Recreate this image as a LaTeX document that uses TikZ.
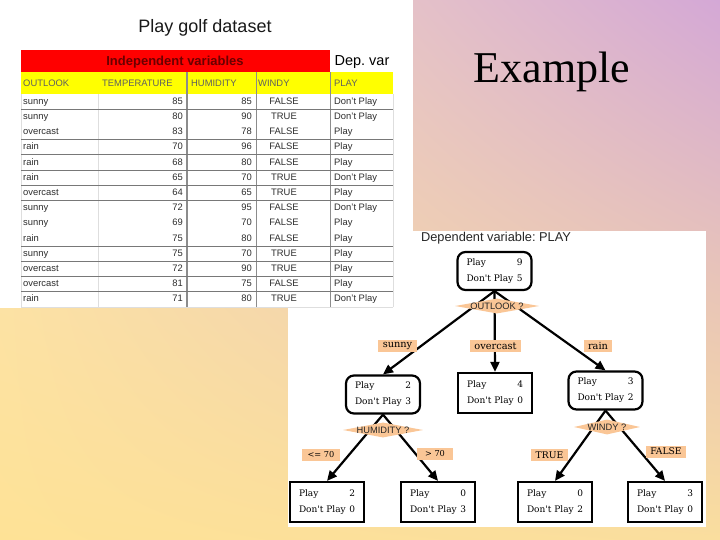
\documentclass[tikz,border=0pt]{standalone}
\usepackage{fontspec}
\setmainfont{Liberation Serif}
\setsansfont{Liberation Sans}
\newfontfamily\treefont{DejaVu Serif}
\usetikzlibrary{positioning,arrows.meta,shapes.geometric,shadings}
\frenchspacing

\definecolor{bgUL}{RGB}{250,226,182}
\definecolor{bgUR}{RGB}{212,168,214}
\definecolor{bgLL}{RGB}{254,226,150}
\definecolor{bgLR}{RGB}{250,222,158}
\definecolor{tabred}{RGB}{255,0,0}
\definecolor{tabyel}{RGB}{255,255,0}
\definecolor{indred}{RGB}{105,0,0}
\definecolor{peach}{RGB}{250,198,150}
\definecolor{headgray}{RGB}{95,95,95}
\definecolor{cellgray}{RGB}{45,45,45}
\definecolor{linegray}{RGB}{120,120,120}
\definecolor{colgray}{RGB}{140,140,140}
\definecolor{faintgray}{RGB}{222,222,222}

\newcommand{\tally}[2]{\begin{tabular*}{56pt}{@{}l@{\extracolsep{\fill}}r@{}}Play & #1\\[5pt]Don't Play & #2\end{tabular*}}

\begin{document}
\begin{tikzpicture}[x=1pt, y=-1pt,
  cell/.style={font=\sffamily\fontsize{9.4}{11}\selectfont, text=cellgray, inner sep=0pt,
               text height=7pt, text depth=2pt},
  hdr/.style={cell, text=headgray},
  rowline/.style={draw=linegray, line width=0.8pt},
  cnt/.style={draw, line width=2.2pt, minimum width=74pt, minimum height=38pt,
              inner sep=0pt, fill=white, font=\treefont\fontsize{9}{11}\selectfont},
  split/.style={cnt, rounded corners=8pt},
  leaf/.style={cnt, minimum height=40pt},
  test/.style={diamond, fill=peach, inner sep=0pt, minimum width=#1, minimum height=15pt},
  testtxt/.style={font=\sffamily\fontsize{9.3}{10}\selectfont, text=black!85, inner sep=0pt},
  lbl/.style={fill=peach, inner xsep=4.5pt, inner ysep=0pt, minimum height=12pt,
              font=\treefont\fontsize{9.8}{11}\selectfont},
  arr/.style={line width=2.2pt, -{Triangle[length=10pt,width=9pt]}}
]
  \useasboundingbox (0,0) rectangle (720,540);
  % slide background and panels
  \shade[upper left=bgUL, upper right=bgUR, lower left=bgLL, lower right=bgLR]
    (0,0) rectangle (720,540);
  \fill[white] (288,231) rectangle (706,527);
  \fill[white] (0,0) rectangle (413,308);
  \node[font=\fontsize{44}{48}\selectfont, anchor=base] (ttl) at (552,83) {Example};

  % dataset table
  \node[font=\sffamily\fontsize{18}{20}\selectfont, text=black!90] (tabttl) at (205,28) {Play golf dataset};
  \fill[tabred] (21,50) rectangle (330,72);
  \fill[tabyel] (21,72) rectangle (393,94);
  \node[font=\sffamily\bfseries\fontsize{13}{14}\selectfont, text=indred] (indep) at (175,62) {Independent variables};
  \node[font=\sffamily\fontsize{14.5}{16}\selectfont] (depv) at (362,62) {Dep. var};
  \node[hdr, anchor=west] (hout) at (23,84) {OUTLOOK};
  \node[hdr, anchor=west] (htmp) at (102,84) {TEMPERATURE};
  \node[hdr, anchor=west] (hhum) at (191,84) {HUMIDITY};
  \node[hdr, anchor=west] (hwin) at (258,84) {WINDY};
  \node[hdr, anchor=west] (hply) at (334,84) {PLAY};
  \draw[faintgray, line width=0.8pt] (21,94) -- (21,307) (98,94) -- (98,307) (393,94) -- (393,307);
  \draw[colgray, line width=1.4pt] (187,72) -- (187,307);
  \draw[colgray, line width=1pt] (256,72) -- (256,307) (330,72) -- (330,307);
  \draw[faintgray, line width=0.8pt] (21,307) -- (393,307);
  \foreach \k in {1,3,4,5,6,7,10,11,12,13}
    \draw[rowline] (21,94+15.2*\k) -- (393,94+15.2*\k);
  \foreach \o/\t/\h/\w/\p [count=\i] in {sunny/85/85/FALSE/Don't Play,
      sunny/80/90/TRUE/Don't Play, overcast/83/78/FALSE/Play, rain/70/96/FALSE/Play,
      rain/68/80/FALSE/Play, rain/65/70/TRUE/Don't Play, overcast/64/65/TRUE/Play,
      sunny/72/95/FALSE/Don't Play, sunny/69/70/FALSE/Play, rain/75/80/FALSE/Play,
      sunny/75/70/TRUE/Play, overcast/72/90/TRUE/Play, overcast/81/75/FALSE/Play,
      rain/71/80/TRUE/Don't Play}{
    \pgfmathsetmacro\yc{94+15.2*\i-7.4}
    \node[cell, anchor=west] (o\i) at (23,\yc) {\o};
    \node[cell, anchor=east] (t\i) at (183,\yc) {\t};
    \node[cell, anchor=east] (h\i) at (252,\yc) {\h};
    \node[cell] (w\i) at (284,\yc) {\w};
    \node[cell, anchor=west] (p\i) at (334,\yc) {\p};
  }

  % decision tree
  \node[font=\sffamily\fontsize{12.8}{14}\selectfont, text=black!85] (dep) at (496,238) {Dependent variable: PLAY};
  \node[split] (root)  at (494.5,271)   {\tally{9}{5}};
  \node[split] (sunny) at (383,394.5)   {\tally{2}{3}};
  \node[leaf, minimum height=40pt] (over) at (495,393) {\tally{4}{0}};
  \node[split] (rain)  at (605.5,390.5) {\tally{3}{2}};
  \node[leaf] (lowh)  at (327,502) {\tally{2}{0}};
  \node[leaf] (highh) at (438,502) {\tally{0}{3}};
  \node[leaf] (windt) at (555,502) {\tally{0}{2}};
  \node[leaf] (windf) at (665,502) {\tally{3}{0}};
  \draw[arr] (root.south)  -- (sunny.north);
  \draw[arr] (root.south)  -- (over.north);
  \draw[arr] (root.south)  -- (rain.north);
  \draw[arr] (sunny.south) -- (lowh.north);
  \draw[arr] (sunny.south) -- (highh.north);
  \draw[arr] (rain.south)  -- (windt.north);
  \draw[arr] (rain.south)  -- (windf.north);
  % tests and branch labels
  \node[test=84pt, label={[testtxt]center:OUTLOOK ?}]  (qout) at (497,306) {};
  \node[test=80pt, label={[testtxt]center:HUMIDITY ?}] (qhum) at (383,430) {};
  \node[test=66pt, label={[testtxt]center:WINDY ?}]    (qwin) at (607,427) {};
  \node[lbl] (lsun)  at (397.5,346) {sunny};
  \node[lbl] (lover) at (495.5,346) {overcast};
  \node[lbl] (lrain) at (598,346)   {rain};
  \node[lbl, minimum width=38pt, font=\treefont\fontsize{8.2}{10}\selectfont] (lle) at (321,455) {<= 70};
  \node[lbl, minimum width=36pt, font=\treefont\fontsize{8.2}{10}\selectfont] (lgt) at (435,454) {> 70};
  \node[lbl, font=\treefont\fontsize{9.2}{10}\selectfont] (ltru) at (549.5,455) {TRUE};
  \node[lbl, font=\treefont\fontsize{9.2}{10}\selectfont] (lfal) at (666,451.5) {FALSE};
\end{tikzpicture}
\end{document}
